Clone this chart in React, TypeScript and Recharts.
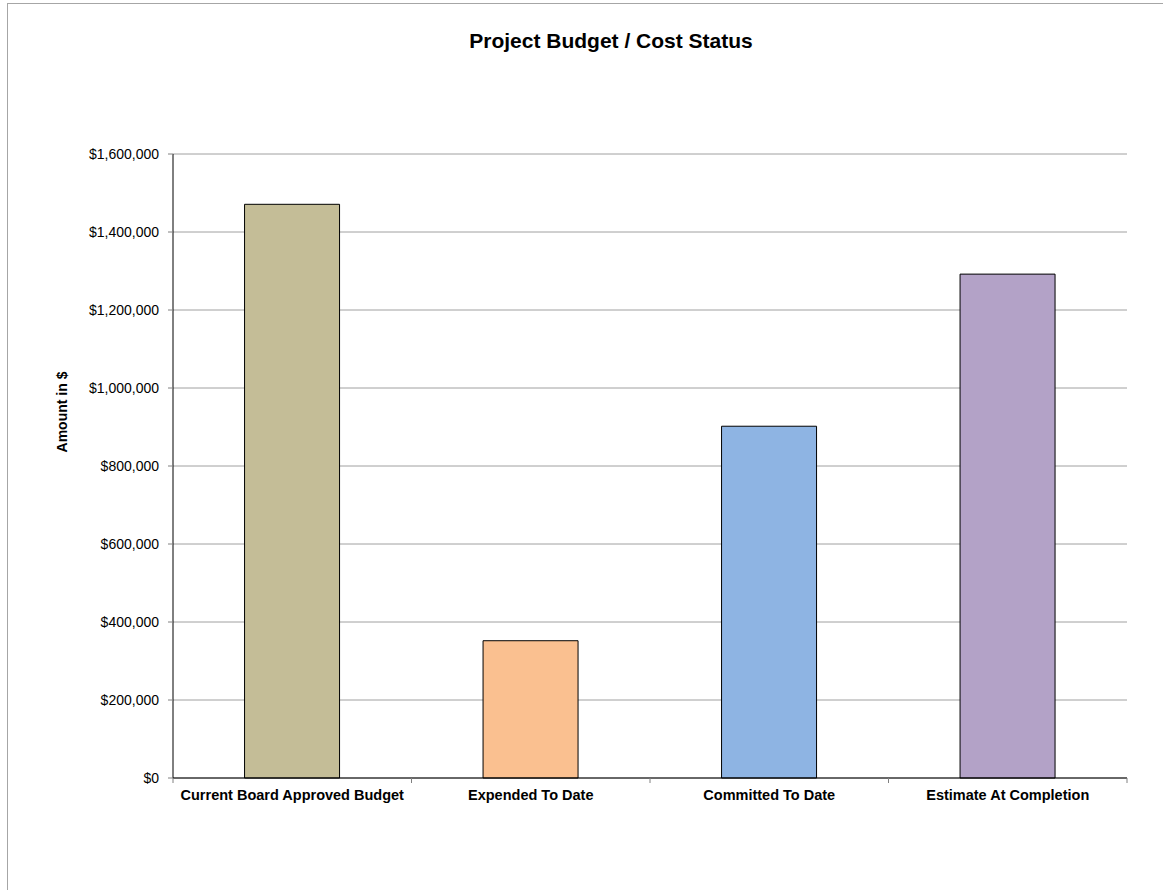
import { BarChart, Bar, XAxis, YAxis, CartesianGrid, Cell } from 'recharts';

const categories = ['Current Board Approved Budget', 'Expended To Date', 'Committed To Date', 'Estimate At Completion'];
const amounts = [1471000, 352000, 902000, 1292000];
const barColors = ['#C4BD97', '#FAC090', '#8EB4E3', '#B3A2C7'];
const yTicks = [0, 200000, 400000, 600000, 800000, 1000000, 1200000, 1400000, 1600000];

const data = categories.map((name, i) => ({ name, value: amounts[i] }));

const FONT = '"Liberation Sans", Arial, sans-serif';

const formatMoney = (v: number) => `$${v.toLocaleString('en-US')}`;

function CategoryTick(props: any) {
  const { x, y, payload, index } = props;
  const half = payload.offset ?? 0;
  return (
    <g>
      {index === 0 && <line x1={x - half} y1={y} x2={x - half} y2={y + 5} stroke="#808080" />}
      <line x1={x + half} y1={y} x2={x + half} y2={y + 5} stroke="#808080" />
      <text
        x={x}
        y={y + 22}
        textAnchor="middle"
        fontFamily={FONT}
        fontSize={14.5}
        fontWeight="bold"
        fill="#000"
      >
        {payload.value}
      </text>
    </g>
  );
}

export default function App() {
  return (
    <div style={{ position: 'absolute', left: 0, top: 0, width: 1163, height: 890, background: '#fff', overflow: 'hidden' }}>
      <div style={{ position: 'absolute', left: 7, top: 3, width: 1200, height: 1, background: '#a6a6a6' }} />
      <div style={{ position: 'absolute', left: 7, top: 3, width: 1, height: 900, background: '#a6a6a6' }} />
      <div
        style={{
          position: 'absolute',
          left: 0,
          top: 29,
          width: 1222,
          textAlign: 'center',
          fontFamily: FONT,
          fontSize: 21,
          fontWeight: 'bold',
          color: '#000',
        }}
      >
        Project Budget / Cost Status
      </div>
      <div style={{ position: 'absolute', left: 0, top: 0 }}>
        <BarChart
          width={1163}
          height={890}
          data={data}
          margin={{ top: 154, right: 36, left: 63, bottom: 82 }}
          barCategoryGap="30%"
        >
          <CartesianGrid horizontal vertical={false} stroke="#a0a0a0" />
          <XAxis
            dataKey="name"
            height={30}
            axisLine={{ stroke: '#000' }}
            tickLine={false}
            tickSize={0}
            tickMargin={0}
            interval={0}
            tick={<CategoryTick />}
          />
          <YAxis
            width={110}
            domain={[0, 1600000]}
            ticks={yTicks}
            interval={0}
            axisLine={{ stroke: '#000' }}
            tickLine={{ stroke: '#808080' }}
            tickSize={5}
            tickMargin={9}
            tickFormatter={formatMoney}
            tick={{ fontFamily: FONT, fontSize: 14, fill: '#000' }}
            label={{
              value: 'Amount in $',
              angle: -90,
              position: 'center',
              dx: -56,
              dy: -54,
              style: { fontFamily: FONT, fontSize: 14, fontWeight: 'bold', fill: '#000' },
            }}
          />
          <Bar dataKey="value" stroke="#000" strokeWidth={1} isAnimationActive={false}>
            {data.map((d, i) => (
              <Cell key={d.name} fill={barColors[i]} />
            ))}
          </Bar>
        </BarChart>
      </div>
    </div>
  );
}
